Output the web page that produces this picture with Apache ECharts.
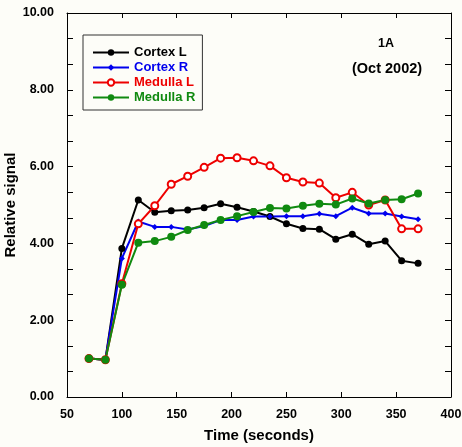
<!DOCTYPE html>
<html><head><meta charset="utf-8">
<script src="https://cdn.jsdelivr.net/npm/echarts@6/dist/echarts.min.js"></script>
<style>html,body{margin:0;padding:0;background:#fdfdf8}#c{width:462px;height:447px}</style>
</head><body><div id="c"></div>
<script>
const times = [70, 85, 100, 115, 130, 145, 160, 175, 190, 205, 220, 235, 250, 265, 280, 295, 310, 325, 340, 355, 370];
const cortexL  = [1.00, 0.97, 3.87, 5.13, 4.81, 4.85, 4.87, 4.93, 5.03, 4.94, 4.83, 4.70, 4.51, 4.39, 4.37, 4.11, 4.24, 3.98, 4.06, 3.55, 3.48];
const cortexR  = [1.00, 0.97, 3.61, 4.57, 4.43, 4.43, 4.36, 4.45, 4.61, 4.61, 4.70, 4.70, 4.71, 4.71, 4.77, 4.71, 4.93, 4.78, 4.78, 4.70, 4.63];
const medullaL = [1.00, 0.97, 2.95, 4.51, 4.98, 5.54, 5.75, 5.98, 6.22, 6.23, 6.15, 6.02, 5.71, 5.60, 5.57, 5.19, 5.33, 5.00, 5.13, 4.38, 4.38];
const medullaR = [1.00, 0.97, 2.92, 4.02, 4.06, 4.17, 4.35, 4.48, 4.61, 4.71, 4.82, 4.92, 4.91, 4.98, 5.03, 5.01, 5.17, 5.04, 5.13, 5.15, 5.30];
const seriesNames = ['Cortex L', 'Cortex R', 'Medulla L', 'Medulla R'];
const seriesColors = ['#000000', '#0000ee', '#ee0000', '#108a10'];
const seriesData = [cortexL, cortexR, medullaL, medullaR];
const seriesSymbols = ['circle', 'diamond', 'emptyCircle', 'circle'];
const seriesSymbolSizes = [7, 6, 7, 8];
const xTicks = [50, 100, 150, 200, 250, 300, 350, 400];
const yTicks = [0, 2, 4, 6, 8, 10];

const F = 'Arial, "Liberation Sans", sans-serif';
const chart = echarts.init(document.getElementById('c'), null, {renderer: 'canvas'});
const tickStyle = {lineStyle: {color: '#000', width: 1}};
chart.setOption({
  backgroundColor: '#fdfdf8',
  animation: false,
  grid: {left: 67, right: 11, top: 13, bottom: 50, containLabel: false, outerBoundsMode: 'none'},
  title: [
    {text: '1A', left: 373, top: 32, textStyle: {fontFamily: F, fontWeight: 'bold', fontSize: 12.5, color: '#000'}},
    {text: '(Oct 2002)', left: 347, top: 56, textStyle: {fontFamily: F, fontWeight: 'bold', fontSize: 14.5, color: '#000'}}
  ],
  legend: {
    orient: 'vertical', left: 83, top: 35,
    itemWidth: 36, itemHeight: 8, itemGap: 2,
    padding: [11, 7, 6, 9],
    borderColor: '#333', borderWidth: 1,
    data: seriesNames.map((n, i) => ({name: n, textStyle: {color: seriesColors[i]}})),
    textStyle: {fontFamily: F, fontWeight: 'bold', fontSize: 13}
  },
  xAxis: [{
    type: 'value', min: xTicks[0], max: xTicks[xTicks.length - 1], interval: 50,
    name: 'Time (seconds)', nameLocation: 'middle', nameGap: 31, nameMoveOverlap: false,
    nameTextStyle: {fontFamily: F, fontWeight: 'bold', fontSize: 15, color: '#000'},
    axisLine: {onZero: false, lineStyle: {color: '#000', width: 1}},
    axisTick: {inside: true, length: 5, ...tickStyle},
    axisLabel: {fontFamily: F, fontWeight: 'bold', fontSize: 12.5, color: '#000', margin: 11},
    splitLine: {show: false}
  }, {
    type: 'value', position: 'top', min: xTicks[0], max: xTicks[xTicks.length - 1], interval: 50,
    axisLine: {onZero: false, lineStyle: {color: '#000', width: 1}},
    axisTick: {inside: true, length: 5, ...tickStyle},
    axisLabel: {show: false}, splitLine: {show: false}
  }],
  yAxis: [{
    type: 'value', min: yTicks[0], max: yTicks[yTicks.length - 1], interval: 2,
    name: 'Relative signal', nameLocation: 'middle', nameGap: 49, nameRotate: 90, nameMoveOverlap: false,
    nameTextStyle: {fontFamily: F, fontWeight: 'bold', fontSize: 15, color: '#000'},
    axisLine: {onZero: false, lineStyle: {color: '#000', width: 1}},
    axisTick: {inside: true, length: 6, ...tickStyle},
    minorTick: {show: true, splitNumber: 3, length: 6, lineStyle: {color: '#000', width: 1}},
    axisLabel: {fontFamily: F, fontWeight: 'bold', fontSize: 12.5, color: '#000', margin: 13, formatter: v => v.toFixed(2)},
    splitLine: {show: false}
  }, {
    type: 'value', position: 'right', min: yTicks[0], max: yTicks[yTicks.length - 1], interval: 2,
    axisLine: {onZero: false, lineStyle: {color: '#000', width: 1}},
    axisTick: {inside: true, length: 6, ...tickStyle},
    minorTick: {show: true, splitNumber: 3, length: 6, lineStyle: {color: '#000', width: 1}},
    axisLabel: {show: false}, splitLine: {show: false}
  }],
  series: seriesNames.map((n, i) => ({
    name: n, type: 'line',
    data: times.map((t, j) => [t, seriesData[i][j]]),
    symbol: seriesSymbols[i], symbolSize: seriesSymbolSizes[i],
    showAllSymbol: true,
    lineStyle: {color: seriesColors[i], width: 2},
    itemStyle: {color: seriesColors[i], borderColor: seriesColors[i], borderWidth: i === 2 ? 1.5 : 0},
    emphasis: {disabled: true}
  }))
});
</script></body></html>
